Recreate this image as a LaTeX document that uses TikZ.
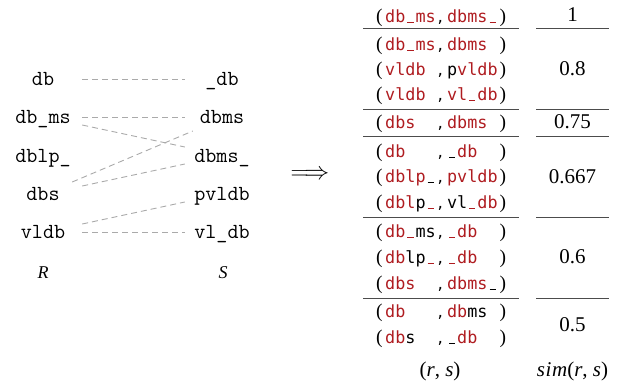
\documentclass[tikz,border=0pt]{standalone}
\usepackage{fontspec}
\setmainfont{Liberation Serif}
\newfontfamily\tmono{DejaVu Sans Mono}
\newfontfamily\djs{DejaVu Sans}
\definecolor{dbred}{RGB}{175,28,32}
\definecolor{dashgray}{RGB}{170,170,170}
\newlength\pitch \setlength\pitch{10.1pt}
\newcommand\rd[1]{\textcolor{dbred}{#1}}
\newcommand\us{\makebox[\pitch][c]{\rule[-0.8pt]{6.2pt}{1.1pt}}}
\newcommand\fld[1]{\makebox[52.4pt][l]{#1}}
\newcommand\prn[1]{{\rmfamily\fontsize{19.5}{22}\selectfont #1}}
\newcommand\pair[2]{\makebox[9pt][l]{\prn{(}}\fld{#1}\makebox[9.5pt][l]{\djs,}\fld{#2}\prn{)}}
\tikzset{
  lstr/.style={font=\ttfamily\fontsize{21.5}{24}\selectfont, inner sep=0pt, minimum width=78pt, text height=12pt, text depth=0pt, anchor=base},
  rstr/.style={lstr, minimum width=74pt},
  conn/.style={draw=dashgray, line width=0.9pt, dash pattern=on 6pt off 4pt},
  pairtxt/.style={font=\tmono\fontsize{16.8}{20}\selectfont, inner sep=0pt, anchor=base west},
  simtxt/.style={font=\fontsize{21}{24}\selectfont, inner sep=0pt, anchor=base},
  tabrule/.style={draw=black!70, line width=1pt},
  setlbl/.style={font=\itshape\fontsize{18}{22}\selectfont, inner sep=0pt, anchor=base}
}
\begin{document}
\begin{tikzpicture}[x=1pt, y=-1pt]
\useasboundingbox (0,0) rectangle (623,383);
% left sets
\node[lstr] (l1) at (43,85) {db};
\node[lstr] (l2) at (43,123) {db\_ms};
\node[lstr] (l3) at (43,162) {dblp\_};
\node[lstr] (l4) at (43,200) {dbs};
\node[lstr] (l5) at (43,238) {vldb};
\node[rstr] (r1) at (222,85) {\_db};
\node[rstr] (r2) at (222,123) {dbms};
\node[rstr] (r3) at (222,162) {dbms\_};
\node[rstr] (r4) at (222,200) {pvldb};
\node[rstr] (r5) at (222,238) {vl\_db};
\draw[conn] (l1.east) -- (r1.west);
\draw[conn] (l2.east) -- (r2.west);
\draw[conn] ([yshift=-8pt]l2.east) -- ([yshift=9pt]r3.west);
\draw[conn] ([xshift=-10pt,yshift=12pt]l4.east) -- ([xshift=8pt,yshift=-14pt]r2.west);
\draw[conn] ([yshift=8pt]l4.east) -- ([yshift=-8pt]r3.west);
\draw[conn] ([yshift=8pt]l5.east) -- ([yshift=-8pt]r4.west);
\draw[conn] (l5.east) -- (r5.west);
\node[setlbl] (lblR) at (43,278) {R};
\node[setlbl] (lblS) at (223,278) {S};
% arrow
\node[font=\fontsize{23}{26}\selectfont, inner sep=0pt] (arr) at (310,175) {$\Longrightarrow$};
% table
\node[pairtxt] (p1) at (376,22) {\pair{\rd{db\us ms}}{\rd{dbms\us}}};
\node[pairtxt] (p2) at (376,50) {\pair{\rd{db\us ms}}{\rd{dbms}}};
\node[pairtxt] (p3) at (376,75) {\pair{\rd{vldb}}{p\rd{vldb}}};
\node[pairtxt] (p4) at (376,100) {\pair{\rd{vldb}}{\rd{vl\us db}}};
\node[pairtxt] (p5) at (376,128) {\pair{\rd{dbs}}{\rd{dbms}}};
\node[pairtxt] (p6) at (376,157) {\pair{\rd{db}}{\us\rd{db}}};
\node[pairtxt] (p7) at (376,182) {\pair{\rd{dblp}\us}{\rd{pvldb}}};
\node[pairtxt] (p8) at (376,208) {\pair{\rd{dbl}p\rd{\us}}{vl\rd{\us db}}};
\node[pairtxt] (p9) at (376,237) {\pair{\rd{db\us}ms}{\rd{\us db}}};
\node[pairtxt] (p10) at (376,263) {\pair{\rd{db}lp\rd{\us}}{\rd{\us db}}};
\node[pairtxt] (p11) at (376,289) {\pair{\rd{dbs}}{\rd{dbms}\us}};
\node[pairtxt] (p12) at (376,317) {\pair{\rd{db}}{\rd{db}ms}};
\node[pairtxt] (p13) at (376,343) {\pair{\rd{db}s}{\us\rd{db}}};
\node[simtxt] (s1) at (572.5,21) {1};
\node[simtxt] (s2) at (572.5,75) {0.8};
\node[simtxt] (s3) at (572.5,128) {0.75};
\node[simtxt] (s4) at (572.5,183) {0.667};
\node[simtxt] (s5) at (572.5,263) {0.6};
\node[simtxt] (s6) at (572.5,331) {0.5};
\node[simtxt] (hrs) at (440,376) {(\textit{r}, \textit{s})};
\node[simtxt] (hsim) at (572.5,376) {\textit{s\kern0.6pt i\kern0.6pt m}(\textit{r}, \textit{s})};
\foreach \yy in {28,109,136,217,298} {
  \draw[tabrule] (363,\yy) -- (519,\yy);
  \draw[tabrule] (536,\yy) -- (609,\yy);
}
\end{tikzpicture}
\end{document}
